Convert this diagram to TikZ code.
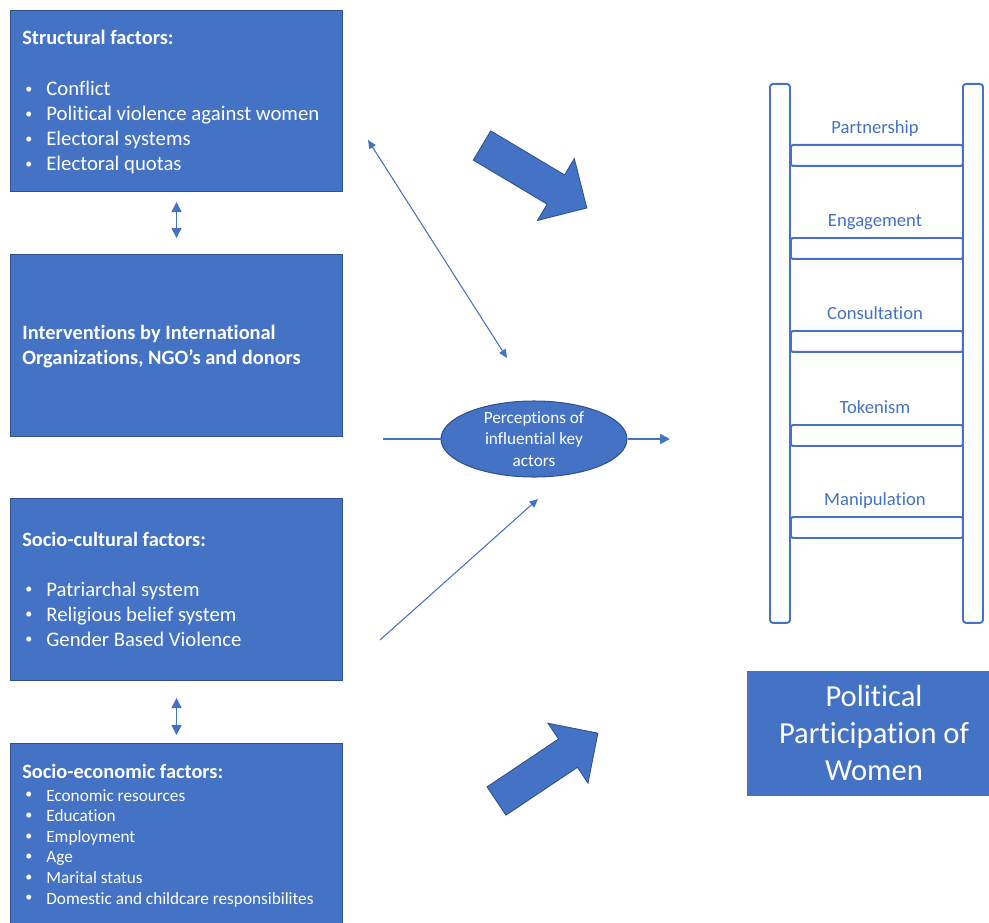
\documentclass[tikz,border=0pt]{standalone}
\usepackage{fontspec}
\setmainfont{Carlito}[Ligatures=NoCommon]
\usetikzlibrary{arrows.meta,shapes.geometric}
\definecolor{Blue}{HTML}{4472C4}
\definecolor{DarkBlue}{HTML}{2F528F}
\newcommand{\bitem}[1]{\hspace*{0.06cm}\makebox[0.42cm][l]{\raisebox{.25ex}{\fontsize{8}{8}\selectfont\textbullet}}#1}

\begin{document}
\begin{tikzpicture}[x=0.02cm,y=-0.02cm,
    factor/.style={draw=DarkBlue,fill=Blue,line width=.6pt,anchor=north west,inner sep=0pt,minimum width=6.64cm},
    head/.style={anchor=base west,inner sep=0pt,text=white,font=\bfseries\fontsize{11.6}{14}\selectfont},
    entry/.style={anchor=base west,inner sep=0pt,text=white,font=\fontsize{11.8}{14}\selectfont},
    small entry/.style={entry,font=\fontsize{9.8}{11.7}\selectfont},
    tie/.style={Blue,line width=.9pt,{Triangle[length=2mm,width=2mm]}-{Triangle[length=2mm,width=2mm]}},
    thin link/.style={Blue,line width=.6pt},
    rail/.style={draw=Blue,fill=white,line width=1.1pt,rounded corners=1.7pt,anchor=north west,inner sep=0pt,minimum width=.4cm,minimum height=10.78cm},
    rung/.style={draw=Blue,fill=white,line width=1.1pt,rounded corners=1.2pt,anchor=north west,inner sep=0pt,minimum width=3.44cm,minimum height=.42cm},
    rung label/.style={anchor=base,inner sep=0pt,text=Blue,font=\fontsize{10.6}{12}\selectfont},
    polit line/.style={anchor=base,inner sep=0pt,text=white,font=\fontsize{17.4}{21}\selectfont},
    blockarrow/.pic={\draw[DarkBlue,fill=Blue,line width=.5pt] (0,-17) -- (86,-17) -- (86,-36) -- (122,0) -- (86,36) -- (86,17) -- (0,17) -- cycle;}
  ]
  \useasboundingbox (0,0) rectangle (989,922);

  % factor boxes
  \node[factor,minimum height=3.62cm] (struct) at (10,10) {};
  \node[factor,minimum height=3.64cm] (interv) at (10,254) {};
  \node[factor,minimum height=3.64cm] (cult) at (10,498) {};
  \node[factor,minimum height=3.9cm] (econ) at (10,743) {};

  \node[head] (structH) at (22,45) {Structural factors:};
  \foreach \t [count=\i] in {Conflict,Political violence against women,Electoral systems,Electoral quotas}
    \node[entry] (struct\i) at (22,71+25*\i) {\bitem{\t}};

  \node[head] (intervA) at (22,339) {Interventions by International};
  \node[head] (intervB) at (22,364) {Organizations, NGO’s and donors};

  \node[head] (cultH) at (22,546) {Socio-cultural factors:};
  \foreach \t [count=\i] in {Patriarchal system,Religious belief system,Gender Based Violence}
    \node[entry] (cult\i) at (22,571+25*\i) {\bitem{\t}};

  \node[head] (econH) at (22,778) {Socio-economic factors:};
  \foreach \t [count=\i] in {Economic resources,Education,Employment,Age,Marital status,Domestic and childcare responsibilites}
    \node[small entry] (econ\i) at (22,780.4+20.6*\i) {\bitem{\t}};

  \draw[tie,shorten <=0.2cm,shorten >=0.32cm] (struct.south) -- (interv.north);
  \draw[tie,shorten <=0.34cm,shorten >=0.16cm] (cult.south) -- (econ.north);

  % perceptions
  \node[ellipse,draw=DarkBlue,fill=Blue,line width=.6pt,inner sep=0pt,minimum width=3.72cm,minimum height=1.52cm] (perc) at (534,439) {};
  \node[align=center,inner sep=0pt,text=white,font=\fontsize{9.8}{12.2}\selectfont] (percT) at (534,439) {Perceptions of\\influential key\\actors};

  \coordinate (feedIn) at (383,439);
  \coordinate (feedOut) at (670,439);
  \draw[Blue,line width=1.1pt] (feedIn) -- (perc);
  \draw[Blue,line width=1.1pt,-{Triangle[length=2mm,width=2mm]}] (perc) -- (feedOut);

  \coordinate (linkA) at (368,140);
  \coordinate (linkB) at (507,358);
  \draw[thin link,{Triangle[length=1.7mm,width=1.5mm]}-{Triangle[length=1.7mm,width=1.5mm]}] (linkA) -- (linkB);
  \coordinate (pushA) at (380,640);
  \coordinate (pushB) at (538,499);
  \draw[thin link,-{Triangle[length=1.7mm,width=1.5mm]}] (pushA) -- (pushB);

  \pic[rotate=-30.8] at (482,145.5) {blockarrow};
  \pic[rotate=33.8] at (496.5,801) {blockarrow};

  % ladder
  \node[rail] (railL) at (769,83) {};
  \node[rail] (railR) at (962,83) {};
  \foreach \nm/\yy/\lab in {partner/144/Partnership,engage/237/Engagement,consult/330/Consultation,token/424/Tokenism,manip/516/Manipulation}{
    \node[rung] (\nm) at (790,\yy) {};
    \node[rung label] (\nm T) at (875,\yy-11) {\lab};
  }

  % outcome
  \node[draw=Blue,fill=Blue,anchor=north west,inner sep=0pt,minimum width=5cm,minimum height=2.48cm] (polit) at (747,671) {};
  \foreach \t/\yy [count=\i] in {Political/706,Participation of/743,Women/780}
    \node[polit line] (polit\i) at (874,\yy) {\t};
\end{tikzpicture}
\end{document}
